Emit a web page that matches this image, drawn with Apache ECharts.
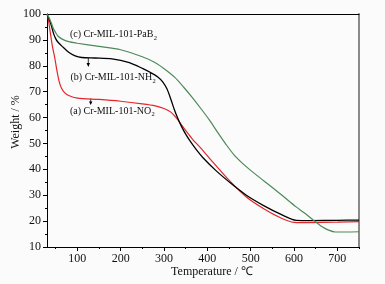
<!DOCTYPE html>
<html><head><meta charset="utf-8">
<script src="https://cdn.jsdelivr.net/npm/echarts@6/dist/echarts.min.js"></script>
<style>html,body{margin:0;padding:0;background:#fbfbfb}#c{width:385px;height:284px}</style>
</head><body><div id="c"></div>
<script>
// Temperature (°C) / weight (%) pairs
const seriesNames = ['(a) Cr-MIL-101-NO2', '(b) Cr-MIL-101-NH2', '(c) Cr-MIL-101-PaB2'];
const curveNO2 = [[30,100],[33,98],[37,93.5],[42,88],[48,83],[53,78],[58,74],[63,71.5],[70,69.7],[80,68.5],[100,67.5],[150,67],[200,66.3],[250,65.3],[280,64.5],[300,63.5],[315,62.2],[328,60],[340,57.3],[352,54.6],[365,51.8],[385,48.2],[410,43.3],[450,35.8],[490,29.3],[530,24.8],[570,21.2],[600,19.5],[620,19.4],[700,19.6],[750,19.8]];
const curveNH2 = [[30,100],[35,98],[40,95.5],[45,92.5],[50,90.5],[55,89.2],[65,87.5],[80,85.2],[95,83.8],[110,83.2],[140,83],[180,82.7],[220,81.2],[250,79],[270,77.3],[285,75.8],[297,73.8],[307,71],[316,67],[324,63],[332,59.6],[340,56.7],[350,53.6],[360,51],[375,47.5],[390,44.5],[420,39.5],[455,34.5],[490,30],[530,26],[570,22.6],[605,20.3],[640,20.2],[700,20.3],[750,20.4]];
const curvePaB2 = [[30,100],[35,98.5],[40,96.5],[45,94.3],[50,92.8],[55,91.5],[65,90.3],[80,89.3],[100,88.7],[150,87.5],[200,86.2],[250,83.5],[280,81.2],[305,78.3],[325,75.5],[345,71.8],[365,67.8],[385,63.5],[405,59],[425,54],[445,49.2],[462,45.5],[480,42.5],[500,39.6],[530,35.6],[570,30.3],[605,25.5],[625,23],[645,20.3],[665,17.8],[680,16.5],[695,15.8],[720,15.8],[750,15.9]];
const xMajorTicks = [100,200,300,400,500,600,700];
const xMinorTicks = [50,150,250,350,450,550,650,750];
const labelMain = ['(a) Cr-MIL-101-NO', '(b) Cr-MIL-101-NH', '(c) Cr-MIL-101-PaB'];
const labelSub = '2';
const xTitle = 'Temperature / ℃';
const yTitle = 'Weight / %';

const FONT = 'Liberation Serif';
const chart = echarts.init(document.getElementById('c'), null, {renderer:'canvas'});
const grid = {left:47, right:26, top:14, bottom:37};
const lineBase = {type:'line', showSymbol:false, smooth:0.25};
const mc = document.createElement('canvas').getContext('2d');
function tw(s, size){ mc.font = size+'px "'+FONT+'"'; return mc.measureText(s).width; }
function txt(x, y, s, size){
  return {type:'text', x:x, y:y, style:{text:s, font:size+'px "'+FONT+'"', fill:'#111', textVerticalAlign:'middle'}};
}
function labelWithSub(x, y, i){
  return [txt(x, y, labelMain[i], 10), txt(x + tw(labelMain[i], 10) + 0.3, y + 3.5, labelSub, 6.5)];
}
chart.setOption({
  backgroundColor:'#fbfbfb',
  animation:false,
  grid:grid,
  xAxis:[
    {type:'value', min:30, max:750, position:'bottom',
     axisLine:{lineStyle:{color:'#000', width:1}},
     axisTick:{show:true, customValues:xMajorTicks, length:4, lineStyle:{color:'#000'}},
     axisLabel:{customValues:xMajorTicks, margin:6, fontFamily:FONT, fontSize:12, color:'#111'},
     splitLine:{show:false}},
    {type:'value', min:30, max:750, position:'bottom',
     axisLine:{show:false},
     axisTick:{show:true, customValues:xMinorTicks, length:2, lineStyle:{color:'#000'}},
     axisLabel:{show:false}, splitLine:{show:false}},
    {type:'value', min:30, max:750, position:'top',
     axisLine:{lineStyle:{color:'#000', width:1}}, axisTick:{show:false}, axisLabel:{show:false}, splitLine:{show:false}}
  ],
  yAxis:[
    {type:'value', min:10, max:100, interval:10, position:'left',
     axisLine:{show:true, lineStyle:{color:'#000', width:1}},
     axisTick:{show:true, length:4, lineStyle:{color:'#000'}},
     minorTick:{show:true, splitNumber:2, length:2, lineStyle:{color:'#000'}},
     axisLabel:{margin:6, fontFamily:FONT, fontSize:12, color:'#111'},
     splitLine:{show:false}},
    {type:'value', min:10, max:100, position:'right',
     axisLine:{show:true, lineStyle:{color:'#8a8a8a', width:2}}, axisTick:{show:false}, axisLabel:{show:false}, splitLine:{show:false}}
  ],
  series:[
    Object.assign({}, lineBase, {name:seriesNames[0], data:curveNO2, color:'#e3262c', lineStyle:{width:1.2, color:'#e3262c'}}),
    Object.assign({}, lineBase, {name:seriesNames[1], data:curveNH2, color:'#000', lineStyle:{width:1.3, color:'#000'}}),
    Object.assign({}, lineBase, {name:seriesNames[2], data:curvePaB2, color:'#4d8a57', lineStyle:{width:1.2, color:'#4d8a57'}})
  ],
  graphic:[].concat(
    labelWithSub(70, 34.5, 2),
    labelWithSub(70.5, 77.5, 1),
    labelWithSub(70, 111, 0),
    [
    {type:'line', shape:{x1:88.3, y1:58, x2:88.3, y2:65}, style:{stroke:'#000', lineWidth:0.8}},
    {type:'polygon', shape:{points:[[86.6,63],[90,63],[88.3,67]]}, style:{fill:'#000'}},
    {type:'line', shape:{x1:90.7, y1:98.5, x2:90.7, y2:103}, style:{stroke:'#000', lineWidth:0.8}},
    {type:'polygon', shape:{points:[[89,101.5],[92.4,101.5],[90.7,105]]}, style:{fill:'#000'}},
    {type:'text', x:212, y:272, style:{text:xTitle, font:'12px "'+FONT+'"', fill:'#111', textAlign:'center', textVerticalAlign:'middle'}},
    {type:'text', x:16, y:122, rotation:Math.PI/2, style:{text:yTitle, font:'12px "'+FONT+'"', fill:'#111', textAlign:'center', textVerticalAlign:'middle'}}
    ])
});
</script></body></html>
